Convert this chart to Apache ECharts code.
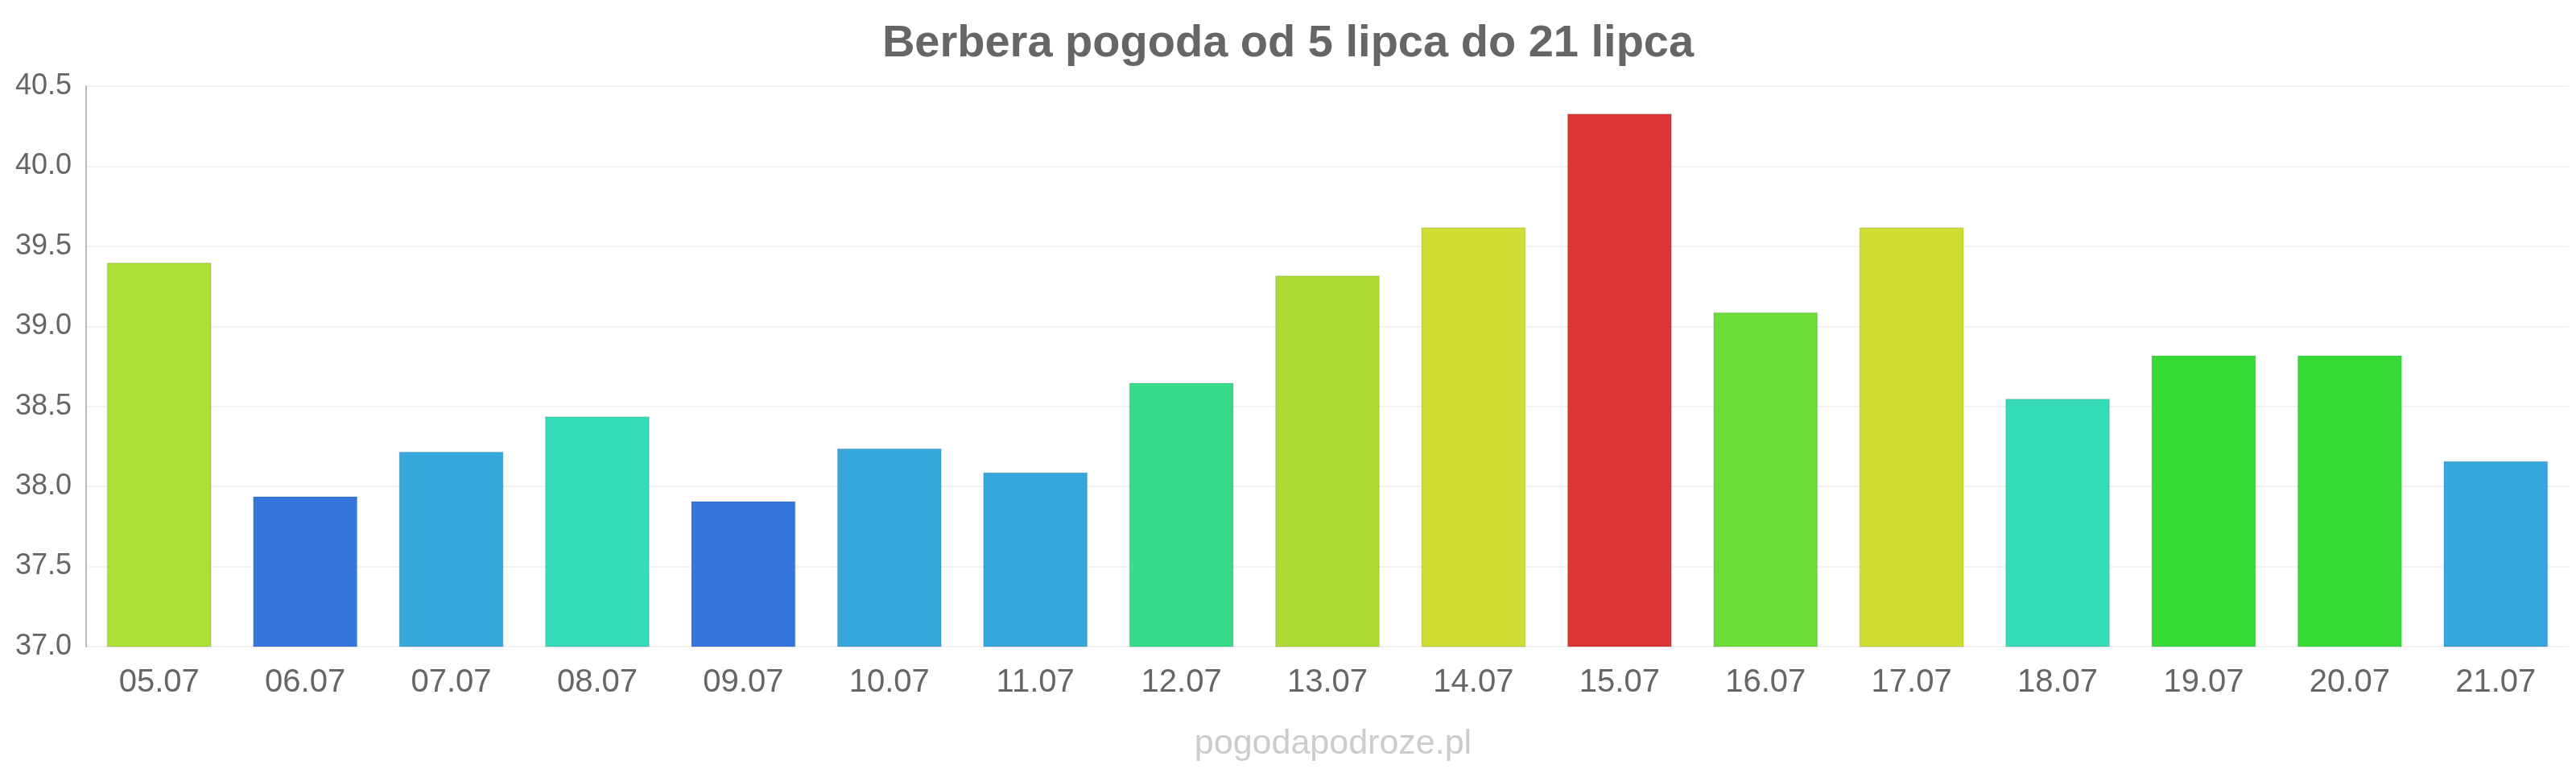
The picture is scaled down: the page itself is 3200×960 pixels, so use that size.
<!DOCTYPE html>
<html>
<head>
<meta charset="utf-8">
<title>Berbera pogoda</title>
<script src="https://cdn.jsdelivr.net/npm/echarts@6/dist/echarts.min.js"></script>
<style>
  html, body { margin: 0; padding: 0; background: #fff; }
  #chart { width: 3200px; height: 960px; }
</style>
</head>
<body>
<div id="chart"></div>
<script>
// dni i temperatury
const days = ['05.07', '06.07', '07.07', '08.07', '09.07', '10.07', '11.07', '12.07', '13.07',
  '14.07', '15.07', '16.07', '17.07', '18.07', '19.07', '20.07', '21.07'];
const temps = [39.4, 37.94, 38.22, 38.44, 37.91, 38.24, 38.09, 38.65, 39.32,
  39.62, 40.33, 39.09, 39.62, 38.55, 38.82, 38.82, 38.16];
const barColors = ['#addf34', '#3675db', '#36a8db', '#36dbb8', '#3675db', '#36a8db', '#36a8db', '#36db8a', '#addd34',
  '#cfdd34', '#db3535', '#6cdd36', '#cfdd34', '#36dbb8', '#36db36', '#36db36', '#36a8db'];
const yTicks = {min: 37, max: 40.5, step: 0.5};

const font = 'Liberation Sans, Arial, sans-serif';
const myChart = echarts.init(document.getElementById('chart'));

const option = {
  animation: false,
  backgroundColor: '#fff',
  title: [
    {
      text: 'Berbera pogoda od 5 lipca do 21 lipca',
      left: 'center',
      top: 22,
      textStyle: {
        color: '#666',
        fontFamily: font,
        fontWeight: 'bold',
        fontSize: 56
      }
    },
    {
      // znak wodny
      text: 'pogodapodroze.pl',
      left: 1651,
      textAlign: 'center',
      top: 898,
      textStyle: {
        color: '#ccccd0',
        fontFamily: font,
        fontWeight: 'normal',
        fontSize: 43
      }
    }
  ],
  grid: {
    left: 107,
    right: 9,
    top: 107,
    bottom: 157,
    containLabel: false
  },
  xAxis: {
    type: 'category',
    data: days,
    axisLine: {show: false},
    axisTick: {show: false},
    axisLabel: {
      color: '#666',
      fontFamily: font,
      fontSize: 40,
      margin: 25
    }
  },
  yAxis: {
    type: 'value',
    min: yTicks.min,
    max: yTicks.max,
    interval: yTicks.step,
    axisLine: {
      show: true,
      lineStyle: {color: '#bbb', width: 2}
    },
    axisTick: {show: false},
    splitLine: {
      lineStyle: {color: '#f3f3f3', width: 2}
    },
    axisLabel: {
      color: '#666',
      fontFamily: font,
      fontSize: 36,
      margin: 18,
      formatter: (v) => v.toFixed(1)
    }
  },
  series: [
    {
      type: 'bar',
      barCategoryGap: '28%',
      data: temps.map((t, i) => ({
        value: t,
        itemStyle: {
          color: barColors[i],
          borderColor: 'rgba(0,0,0,0.08)',
          borderWidth: 2
        }
      }))
    }
  ]
};

myChart.setOption(option);
</script>
</body>
</html>
